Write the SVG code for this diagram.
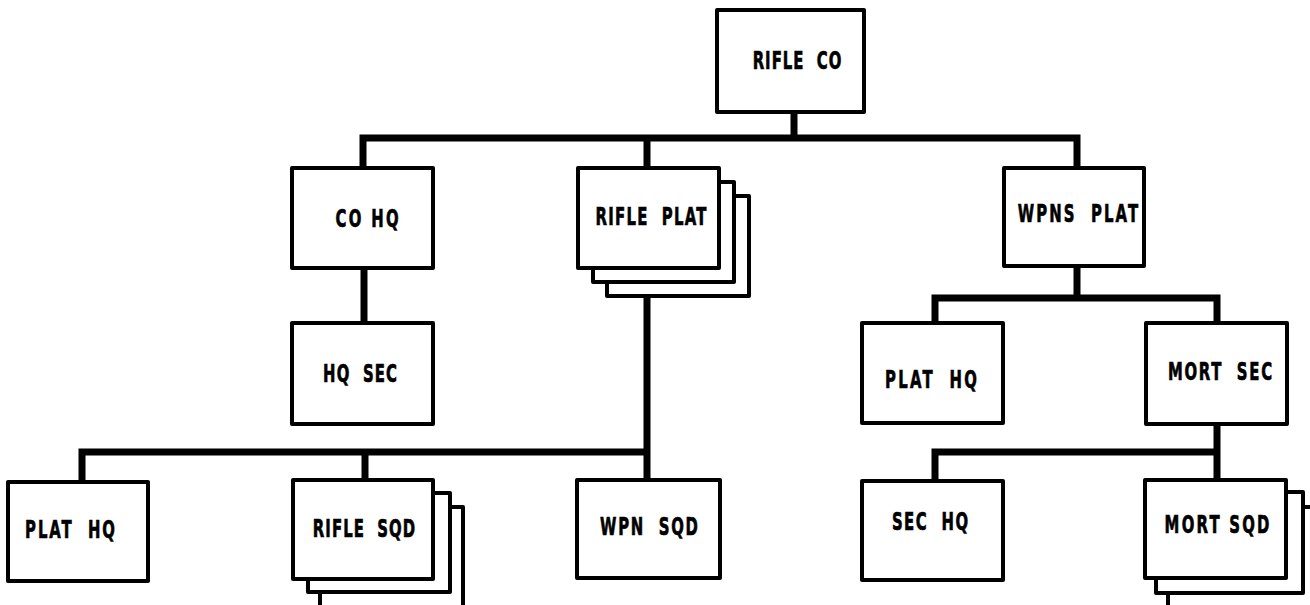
<svg xmlns="http://www.w3.org/2000/svg" width="1310" height="605" viewBox="0 0 1310 605">
<style>
  .box { fill: #fff; stroke: #000; stroke-width: 4; stroke-linejoin: round; }
  .lbl { font-family: "DejaVu Sans", "Liberation Sans", sans-serif; font-weight: bold; font-size: 24px; fill: #000; stroke: #000; stroke-width: 0.7; text-anchor: middle; white-space: pre; }
  .conn { fill: none; stroke: #000; stroke-width: 7; stroke-linejoin: miter; stroke-linecap: butt; }
</style>
<rect width="1310" height="605" fill="#fff"/>
<g id="connectors">
  <path class="conn" d="M794,112 V138"/>
  <path class="conn" d="M363,168 V138 H1077 V168"/>
  <path class="conn" d="M647,138 V168"/>
  <path class="conn" d="M364,268 V323"/>
  <path class="conn" d="M647,296 V480"/>
  <path class="conn" d="M82,480 V452 H647"/>
  <path class="conn" d="M365,452 V480"/>
  <path class="conn" d="M1077,266 V298"/>
  <path class="conn" d="M935,323 V298 H1217 V323"/>
  <path class="conn" d="M1217,424 V480"/>
  <path class="conn" d="M935,480 V452 H1217"/>
</g>
<g id="rifle-co">
  <rect class="box" x="717" y="10" width="147" height="102"/>
  <text class="lbl" xml:space="preserve" transform="translate(797,69) scale(0.62,1)" textLength="143" lengthAdjust="spacing">RIFLE  CO</text>
</g>
<g id="co-hq">
  <rect class="box" x="292" y="168" width="141" height="100"/>
  <text class="lbl" xml:space="preserve" transform="translate(367,227) scale(0.62,1)" textLength="102" lengthAdjust="spacing">CO HQ</text>
</g>
<g id="rifle-plat">
  <rect class="box" x="607" y="196" width="142" height="100"/>
  <rect class="box" x="593" y="182" width="141" height="100"/>
  <rect class="box" x="578" y="168" width="141" height="100"/>
  <text class="lbl" xml:space="preserve" transform="translate(651,225) scale(0.62,1)" textLength="179" lengthAdjust="spacing">RIFLE  PLAT</text>
</g>
<g id="wpns-plat">
  <rect class="box" x="1004" y="168" width="140" height="98"/>
  <text class="lbl" xml:space="preserve" transform="translate(1078,222) scale(0.62,1)" textLength="194" lengthAdjust="spacing">WPNS  PLAT</text>
</g>
<g id="hq-sec">
  <rect class="box" x="292" y="323" width="141" height="101"/>
  <text class="lbl" xml:space="preserve" transform="translate(360,382) scale(0.62,1)" textLength="119" lengthAdjust="spacing">HQ  SEC</text>
</g>
<g id="wpns-plat-hq">
  <rect class="box" x="862" y="323" width="141" height="100"/>
  <text class="lbl" xml:space="preserve" transform="translate(931,388) scale(0.62,1)" textLength="148" lengthAdjust="spacing">PLAT  HQ</text>
</g>
<g id="mort-sec">
  <rect class="box" x="1146" y="323" width="141" height="101"/>
  <text class="lbl" xml:space="preserve" transform="translate(1220,380) scale(0.62,1)" textLength="168" lengthAdjust="spacing">MORT  SEC</text>
</g>
<g id="plat-hq">
  <rect class="box" x="8" y="482" width="140" height="99"/>
  <text class="lbl" xml:space="preserve" transform="translate(70,538) scale(0.62,1)" textLength="145" lengthAdjust="spacing">PLAT  HQ</text>
</g>
<g id="rifle-sqd">
  <rect class="box" x="320" y="507" width="143" height="110"/>
  <rect class="box" x="308" y="493" width="142" height="99"/>
  <rect class="box" x="293" y="480" width="140" height="99"/>
  <text class="lbl" xml:space="preserve" transform="translate(364,537) scale(0.62,1)" textLength="165" lengthAdjust="spacing">RIFLE  SQD</text>
</g>
<g id="wpn-sqd">
  <rect class="box" x="577" y="480" width="143" height="98"/>
  <text class="lbl" xml:space="preserve" transform="translate(649,535) scale(0.62,1)" textLength="158" lengthAdjust="spacing">WPN  SQD</text>
</g>
<g id="sec-hq">
  <rect class="box" x="862" y="481" width="141" height="99"/>
  <text class="lbl" xml:space="preserve" transform="translate(930,530) scale(0.62,1)" textLength="123" lengthAdjust="spacing">SEC  HQ</text>
</g>
<g id="mort-sqd">
  <rect class="box" x="1168" y="507" width="150" height="110"/>
  <rect class="box" x="1156" y="492" width="147" height="101"/>
  <rect class="box" x="1145" y="480" width="141" height="98"/>
  <text class="lbl" xml:space="preserve" transform="translate(1217,533) scale(0.62,1)" textLength="169" lengthAdjust="spacing">MORT SQD</text>
</g>
</svg>
